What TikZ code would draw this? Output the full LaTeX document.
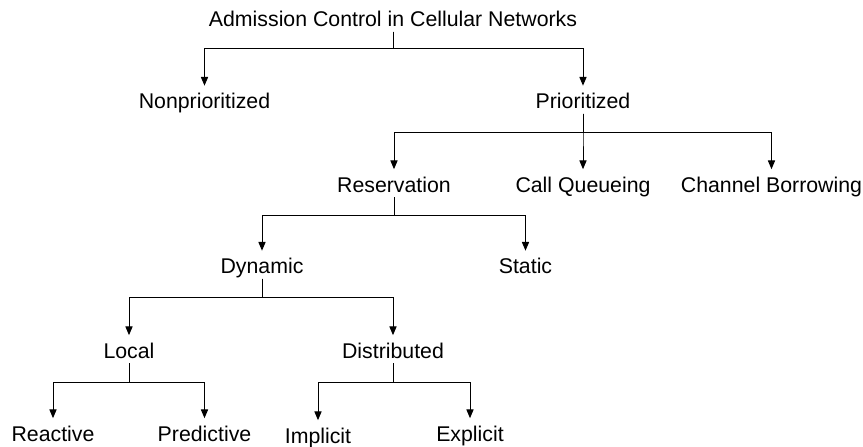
\documentclass[tikz,border=0pt]{standalone}
\usepackage{fontspec}
\setmainfont{Liberation Sans}
\usepackage{tikz}
\usetikzlibrary{arrows.meta,positioning}

\begin{document}
\begin{tikzpicture}
    [x=0.5pt,y=-0.5pt,
     item/.style={anchor=base,inner xsep=1pt,inner ysep=0pt,
                  font=\fontsize{10.65}{12}\selectfont,
                  text height=1.12em,text depth=0.24em},
     branch/.style={-{Triangle[length=4.4pt,width=3.6pt]},line width=0.5pt}]
    \useasboundingbox (0,0) rectangle (863,446);

    \node (acn) at (393,26.5) [item] {Admission Control in Cellular Networks};

    \node (nonp) at (204.5,108.5) [item] {Nonprioritized};
    \node (prio) at (583,108.5) [item] {Prioritized};

    \node (resv) at (394,192) [item] {Reservation};
    \node (cq) at (583,192) [item] {Call Queueing};
    \node (cb) at (771.5,192) [item] {Channel Borrowing};

    \node (dyn) at (262,273.5) [item] {Dynamic};
    \node (stat) at (525.5,273.5) [item] {Static};

    \node (loc) at (129,358) [item] {Local};
    \node (dist) at (393,358) [item] {Distributed};

    \node (react) at (53,441) [item] {Reactive};
    \node (pred) at (204.5,441) [item] {Predictive};
    \node (impl) at (318,443) [item] {Implicit};
    \node (expl) at (470,441) [item] {Explicit};

    \draw[branch] (acn.south) -- ++(0,17) -| (nonp.north);
    \draw[branch] (acn.south) -- ++(0,17) -| (prio.north);

    \draw[branch] (prio.south) -- ++(0,18.5) -| (resv.north);
    \draw[branch] (prio.south) -- ++(0,18.5) -| (cq.north);
    \draw[branch] (prio.south) -- ++(0,18.5) -| (cb.north);

    \draw[branch] (resv.south) -- ++(0,18) -| (dyn.north);
    \draw[branch] (resv.south) -- ++(0,18) -| (stat.north);

    \draw[branch] (dyn.south) -- ++(0,19) -| (loc.north);
    \draw[branch] (dyn.south) -- ++(0,19) -| (dist.north);

    \draw[branch] (loc.south) -- ++(0,19) -| (react.north);
    \draw[branch] (loc.south) -- ++(0,19) -| (pred.north);
    \draw[branch] (dist.south) -- ++(0,19) -| (impl.north);
    \draw[branch] (dist.south) -- ++(0,19) -| (expl.north);
\end{tikzpicture}
\end{document}
